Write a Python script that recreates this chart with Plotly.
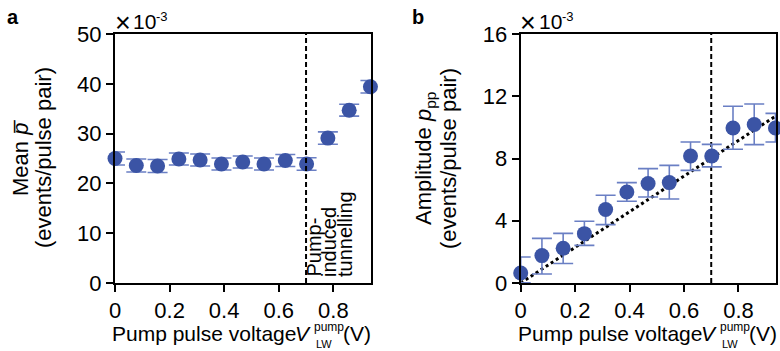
import plotly.graph_objects as go

# Pump pulse voltages (V)
voltage = [0, 0.078, 0.156, 0.234, 0.312, 0.39, 0.468, 0.546, 0.624, 0.702, 0.78, 0.858, 0.936]

# Panel a: mean tunnelling probability (x1e-3 events/pulse pair)
mean_p = [25.0, 23.6, 23.5, 24.9, 24.7, 23.9, 24.3, 23.9, 24.6, 23.9, 29.1, 34.7, 39.4]
mean_p_err = [1.3, 1.3, 1.3, 1.2, 1.2, 1.2, 1.2, 1.2, 1.2, 1.25, 1.25, 1.2, 1.25]

# Panel b: amplitude p_pp (x1e-3 events/pulse pair)
amp_p = [0.64, 1.76, 2.23, 3.17, 4.72, 5.85, 6.39, 6.45, 8.16, 8.16, 9.96, 10.18, 9.96]
amp_err_plus = [1.03, 1.11, 0.96, 0.8, 0.92, 0.6, 0.96, 1.11, 0.9, 0.75, 1.4, 1.32, 0.94]
amp_err_minus = [0.62, 1.18, 0.98, 0.75, 0.97, 0.6, 0.86, 1.05, 0.92, 0.7, 1.37, 1.29, 0.9]

# Linear fit through the origin for panel b
fit_slope = 11.45
fit_x = [0, 0.938]
fit_y = [fit_slope * v for v in fit_x]

threshold_v = 0.7

W, H = 780, 351
FONT = "Liberation Sans"
MARKER = "#3b54a5"
ERRC = "#6a7fc4"


def px(x):
    return x / W


def py(y):
    return 1 - y / H


fig = go.Figure()

err_a = dict(type="data", array=mean_p_err, color=ERRC, thickness=1.6, width=10)
fig.add_trace(go.Scatter(x=voltage, y=mean_p, mode="markers", error_y=err_a,
                         marker=dict(size=15, color=MARKER), cliponaxis=False,
                         xaxis="x", yaxis="y"))
fig.add_trace(go.Scatter(x=[threshold_v, threshold_v], y=[0, 50], mode="lines",
                         line=dict(color="black", width=2, dash="5px,3px"),
                         xaxis="x", yaxis="y"))

fig.add_trace(go.Scatter(x=fit_x, y=fit_y, mode="lines",
                         line=dict(color="black", width=3, dash="3px,3px"),
                         xaxis="x2", yaxis="y2"))
fig.add_trace(go.Scatter(x=[threshold_v, threshold_v], y=[0, 16], mode="lines",
                         line=dict(color="black", width=2, dash="5px,3px"),
                         xaxis="x2", yaxis="y2"))
err_b = dict(type="data", array=amp_err_plus, arrayminus=amp_err_minus, symmetric=False,
             color=ERRC, thickness=1.6, width=10)
fig.add_trace(go.Scatter(x=voltage, y=amp_p, mode="markers", error_y=err_b,
                         marker=dict(size=15, color=MARKER), cliponaxis=False,
                         xaxis="x2", yaxis="y2"))

axis_common = dict(showline=True, linecolor="black", linewidth=2, mirror=True,
                   ticks="outside", ticklen=7, tickwidth=2, tickcolor="black",
                   showgrid=False, zeroline=False, automargin=False,
                   tickfont=dict(family=FONT, size=22, color="black"))

ydom = [py(283), py(34)]
fig.update_layout(
    width=W, height=H, showlegend=False,
    margin=dict(l=0, r=0, t=0, b=0),
    paper_bgcolor="white", plot_bgcolor="white",
    xaxis=dict(domain=[px(115), px(371)], range=[0, 0.938],
               tickvals=[0, 0.2, 0.4, 0.6, 0.8], ticktext=["0", "0.2", "0.4", "0.6", "0.8"],
               anchor="y", **axis_common),
    yaxis=dict(domain=ydom, range=[0, 50], tickvals=[0, 10, 20, 30, 40, 50],
               anchor="x", **axis_common),
    xaxis2=dict(domain=[px(520.7), px(776)], range=[0, 0.938],
                tickvals=[0, 0.2, 0.4, 0.6, 0.8], ticktext=["0", "0.2", "0.4", "0.6", "0.8"],
                anchor="y2", **axis_common),
    yaxis2=dict(domain=ydom, range=[0, 16], tickvals=[0, 4, 8, 12, 16],
                anchor="x2", **axis_common),
)

ann = []


def text(x, y, s, size=22, xanchor="center", yanchor="middle", angle=0):
    ann.append(dict(x=px(x), y=py(y), xref="paper", yref="paper", text=s,
                    showarrow=False, xanchor=xanchor, yanchor=yanchor, textangle=angle,
                    font=dict(family=FONT, size=size, color="black"), borderpad=0))


# Panel letters
text(13, 17, "<b>a</b>", size=20)
text(418, 17, "<b>b</b>", size=20)

# Exponent labels above each y axis
for dx in (0, 405.7):
    text(122.5 + dx, 23, "×", size=27)
    text(132 + dx, 22, "10", size=21, xanchor="left")
    text(155 + dx, 17, "-3", size=13, xanchor="left")

# x-axis titles with stacked sub/superscript
for dx in (0, 405.7):
    text(111 + dx, 333, "Pump pulse voltage", size=21, xanchor="left")
    text(294 + dx, 333, "<i>V</i>", size=21, xanchor="left")
    text(313 + dx, 327, "pump", size=12, xanchor="left")
    text(315 + dx, 344, "LW", size=11, xanchor="left")
    text(342 + dx, 333, "(V)", size=21, xanchor="left")

# y-axis titles
text(20, 158, "Mean <i>p\u0305</i>", angle=-90)
text(43, 158, "(events/pulse pair)", angle=-90)
text(425, 158, "Amplitude <i>p</i><sub>pp</sub>", angle=-90)
text(448, 158, "(events/pulse pair)", angle=-90)

# Region label in panel a
for xc, s in ((313, "Pump-"), (329, "induced"), (345, "tunnelling")):
    text(xc, 278, s, size=20, yanchor="bottom", angle=-90)

fig.update_layout(annotations=ann)
fig.write_html("out.html")
